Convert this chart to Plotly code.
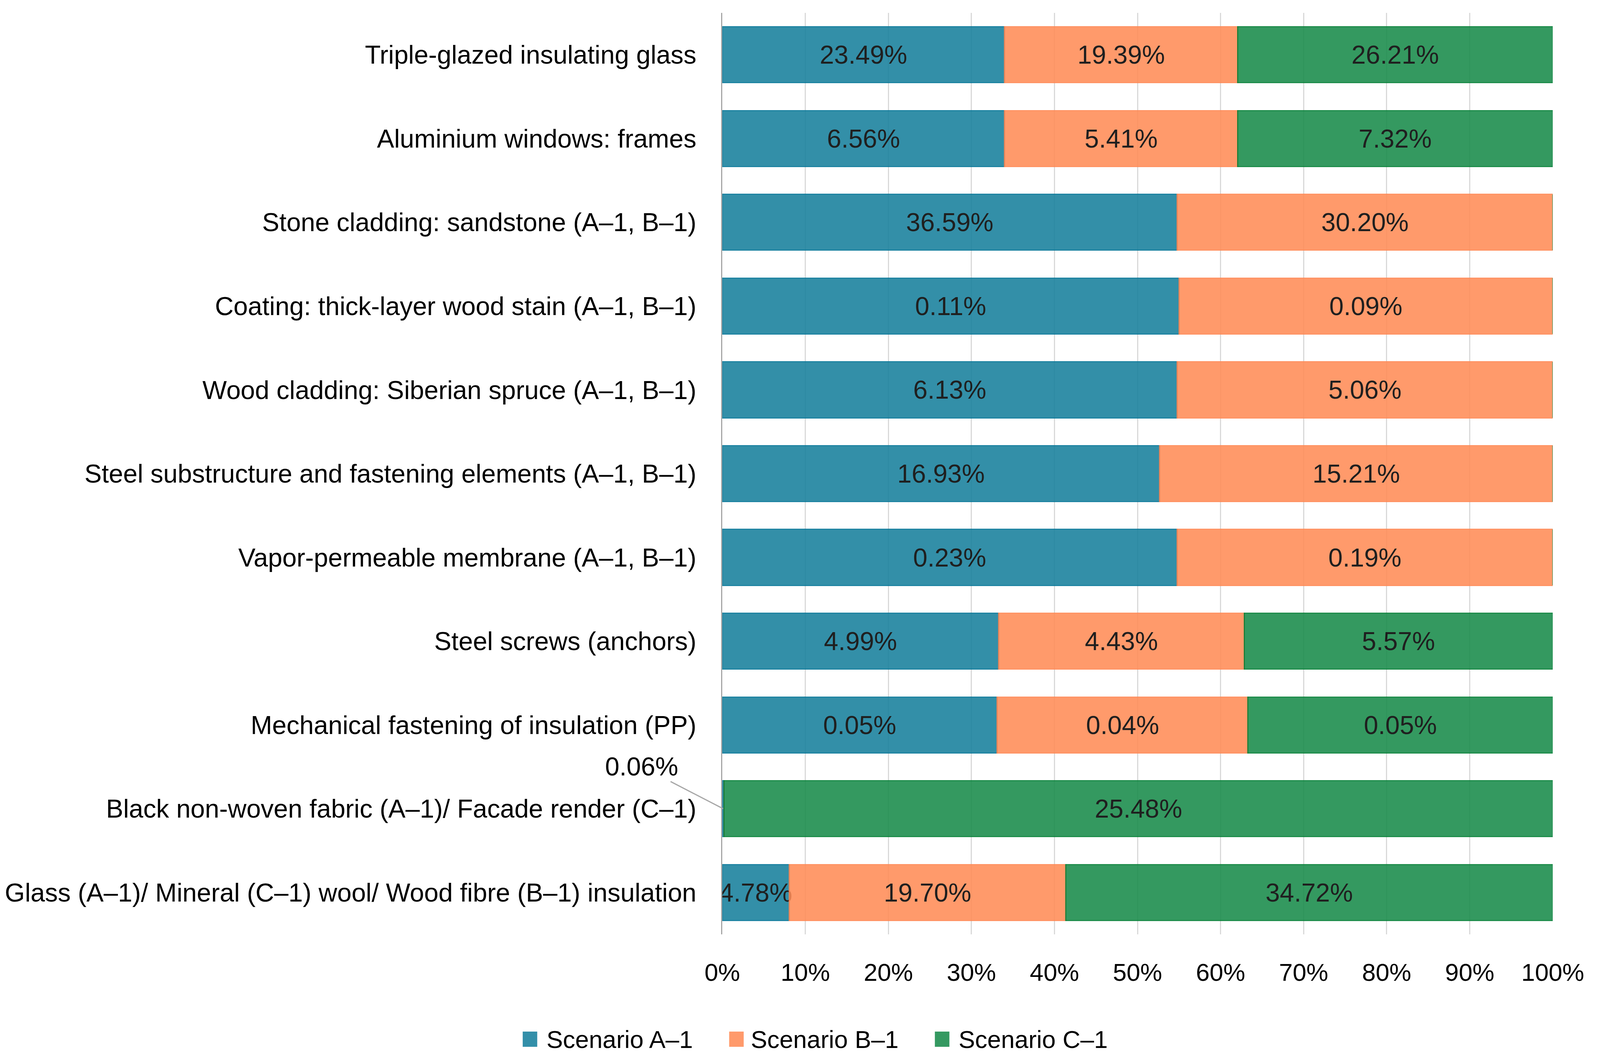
import plotly.graph_objects as go

# Data (top to bottom as in the chart)
categories = [
    "Triple-glazed insulating glass",
    "Aluminium windows: frames",
    "Stone cladding: sandstone (A–1, B–1)",
    "Coating: thick-layer wood stain (A–1, B–1)",
    "Wood cladding: Siberian spruce (A–1, B–1)",
    "Steel substructure and fastening elements (A–1, B–1)",
    "Vapor-permeable membrane (A–1, B–1)",
    "Steel screws (anchors)",
    "Mechanical fastening of insulation (PP)",
    "Black non-woven fabric (A–1)/ Facade render (C–1)",
    "Glass (A–1)/ Mineral (C–1) wool/ Wood fibre (B–1) insulation",
]
scenario_a = [23.49, 6.56, 36.59, 0.11, 6.13, 16.93, 0.23, 4.99, 0.046, 0.06, 4.78]
scenario_b = [19.39, 5.41, 30.20, 0.09, 5.06, 15.21, 0.19, 4.43, 0.042, 0.0, 19.70]
scenario_c = [26.21, 7.32, 0.0, 0.0, 0.0, 0.0, 0.0, 5.57, 0.051, 25.48, 34.72]
series_names = ["Scenario A–1", "Scenario B–1", "Scenario C–1"]
x_ticks = [0, 10, 20, 30, 40, 50, 60, 70, 80, 90, 100]

callout_row = 9  # tiny A-1 value shown with a leader line

fills   = ["rgb(23,128,157)", "rgb(255,140,87)", "rgb(25,139,75)"]
borders = ["rgb(0,116,150)", "rgb(255,134,80)", "rgb(0,126,52)"]
swatch  = ["#338FA9", "#FF9A6B", "#359961"]
# legend layout in paper units: swatch left edge, text left edge
legend_sw_x  = [-0.2403, 0.0083, 0.2560]
legend_txt_x = [-0.2128, 0.0335, 0.2836]
SW_W, SW_Y0, SW_Y1, TXT_Y = 0.0175, -0.1220, -0.1055, -0.1140
FONT = "Liberation Sans"
FS = 66      # category and value labels
FS_AX = 63   # axis ticks and legend

# the browser viewport is 4096 px wide, so lay the page out for that width
W, H = 4096, 2702


def labels(vals, skip=None):
    out = []
    for i, v in enumerate(vals):
        if v == 0 or i == skip:
            out.append("")
        else:
            out.append(f"{v:.2f}%")
    return out


fig = go.Figure()
for k, vals in enumerate([scenario_a, scenario_b, scenario_c]):
    fig.add_trace(go.Bar(
        y            = categories,
        x            = vals,
        orientation  = "h",
        name         = series_names[k],
        marker       = dict(color=fills[k], line=dict(color=borders[k], width=3)),
        opacity      = 0.88,
        text         = labels(vals, skip=callout_row if k == 0 else None),
        textposition = "inside",
        insidetextanchor = "middle",
        constraintext = "none",
        textfont     = dict(family=FONT, size=FS, color="black"),
        hoverinfo    = "skip",
        showlegend   = False,
    ))

# leader-line label for the tiny value
fig.add_annotation(
    x         = 0.1,
    y         = categories[callout_row],
    text      = f"{scenario_a[callout_row]:.2f}%",
    showarrow = True,
    arrowhead = 0,
    arrowwidth= 3,
    arrowcolor= "#A6A6A6",
    ax        = -209,
    ay        = -108,
    standoff  = 0,
    font      = dict(family=FONT, size=FS, color="black"),
)

# legend: square swatches plus text
for k, name in enumerate(series_names):
    fig.add_shape(
        type="rect", xref="paper", yref="paper",
        x0=legend_sw_x[k], x1=legend_sw_x[k] + SW_W, y0=SW_Y0, y1=SW_Y1,
        fillcolor=swatch[k], line=dict(width=0),
    )
    fig.add_annotation(
        xref="paper", yref="paper",
        x=legend_txt_x[k], y=TXT_Y,
        xanchor="left", yanchor="middle",
        showarrow=False,
        text=name,
        font=dict(family=FONT, size=FS_AX, color="black"),
    )

fig.update_layout(
    width        = W,
    height       = H,
    barmode      = "stack",
    barnorm      = "percent",
    bargap       = 0.333,
    plot_bgcolor = "white",
    paper_bgcolor= "white",
    margin       = dict(l=1837, r=121, t=33, b=309),
    font         = dict(family=FONT, size=FS, color="black"),
    xaxis = dict(
        range     = [0, 100],
        tickvals  = x_ticks,
        ticktext  = [f"{t}%" for t in x_ticks],
        showgrid  = True,
        gridcolor = "#D9D9D9",
        gridwidth = 3,
        zeroline  = False,
        ticklabelstandoff = 55,
        tickfont  = dict(family=FONT, size=FS_AX, color="black"),
    ),
    yaxis = dict(
        autorange = "reversed",
        showline  = True,
        linecolor = "#A6A6A6",
        linewidth = 3,
        ticks     = "",
        ticklabelstandoff = 50,
        tickfont  = dict(family=FONT, size=FS, color="black"),
    ),
    showlegend = False,
)

fig.write_html(
    "out.html",
    config={"displayModeBar": False},
    post_script="document.body.style.margin = '0';",
)
